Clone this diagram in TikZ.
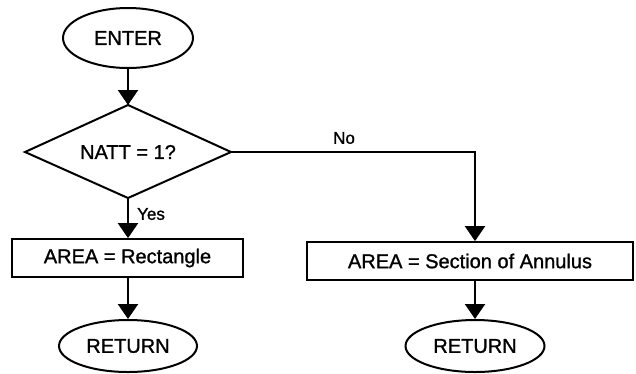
\documentclass[tikz,border=0pt]{standalone}
\usepackage{fontspec}
\setmainfont{Liberation Sans}[FakeBold=1.2]
\usetikzlibrary{shapes.geometric,arrows.meta}
\begin{document}
\begin{tikzpicture}[x=1pt,y=-1pt,
  term/.style={ellipse,draw,line width=2pt,inner sep=0pt,font=\fontsize{20}{24}\selectfont},
  procbox/.style={rectangle,draw,line width=1.8pt,inner sep=0pt,font=\fontsize{20}{24}\selectfont},
  decbox/.style={inner sep=0pt,font=\fontsize{20}{24}\selectfont},
  lbl/.style={inner sep=0pt,font=\fontsize{17}{20}\selectfont},
  flow/.style={line width=2.2pt,-{Triangle[width=20pt,length=15pt]}}]
\useasboundingbox (0,0) rectangle (636,373);
\node[term,minimum width=130pt,minimum height=60pt] (enter) at (128,38) {ENTER};
\node[decbox] (dec) at (128,152) {NATT = 1?};
\coordinate (dtop) at (128,105);
\coordinate (dbot) at (128,198);
\coordinate (dleft) at (25,152);
\coordinate (dright) at (231,152);
\draw[line width=2pt,line join=miter] (dtop) -- (dright) -- (dbot) -- (dleft) -- cycle;
\node[procbox,minimum width=231pt,minimum height=38pt] (lbox) at (127.5,258) {AREA = Rectangle};
\node[procbox,minimum width=326pt,minimum height=38pt] (rbox) at (470,261) {AREA = Section of Annulus};
\node[term,minimum width=138pt,minimum height=52pt] (ret1) at (128,346) {RETURN};
\node[term,minimum width=139pt,minimum height=52pt] (ret2) at (475,346) {RETURN};
\coordinate (corner) at (475,152);
\draw[flow] (enter) -- (dtop);
\draw[flow] (dbot) -- (lbox.north -| dbot);
\draw[flow] (dright) -- (corner) -- (corner |- rbox.north);
\draw[flow] (lbox.south -| ret1) -- (ret1);
\draw[flow] (rbox.south -| ret2) -- (ret2);
\node[lbl] (no) at (344,138) {No};
\node[lbl] (yes) at (151,214) {Yes};
\end{tikzpicture}
\end{document}
